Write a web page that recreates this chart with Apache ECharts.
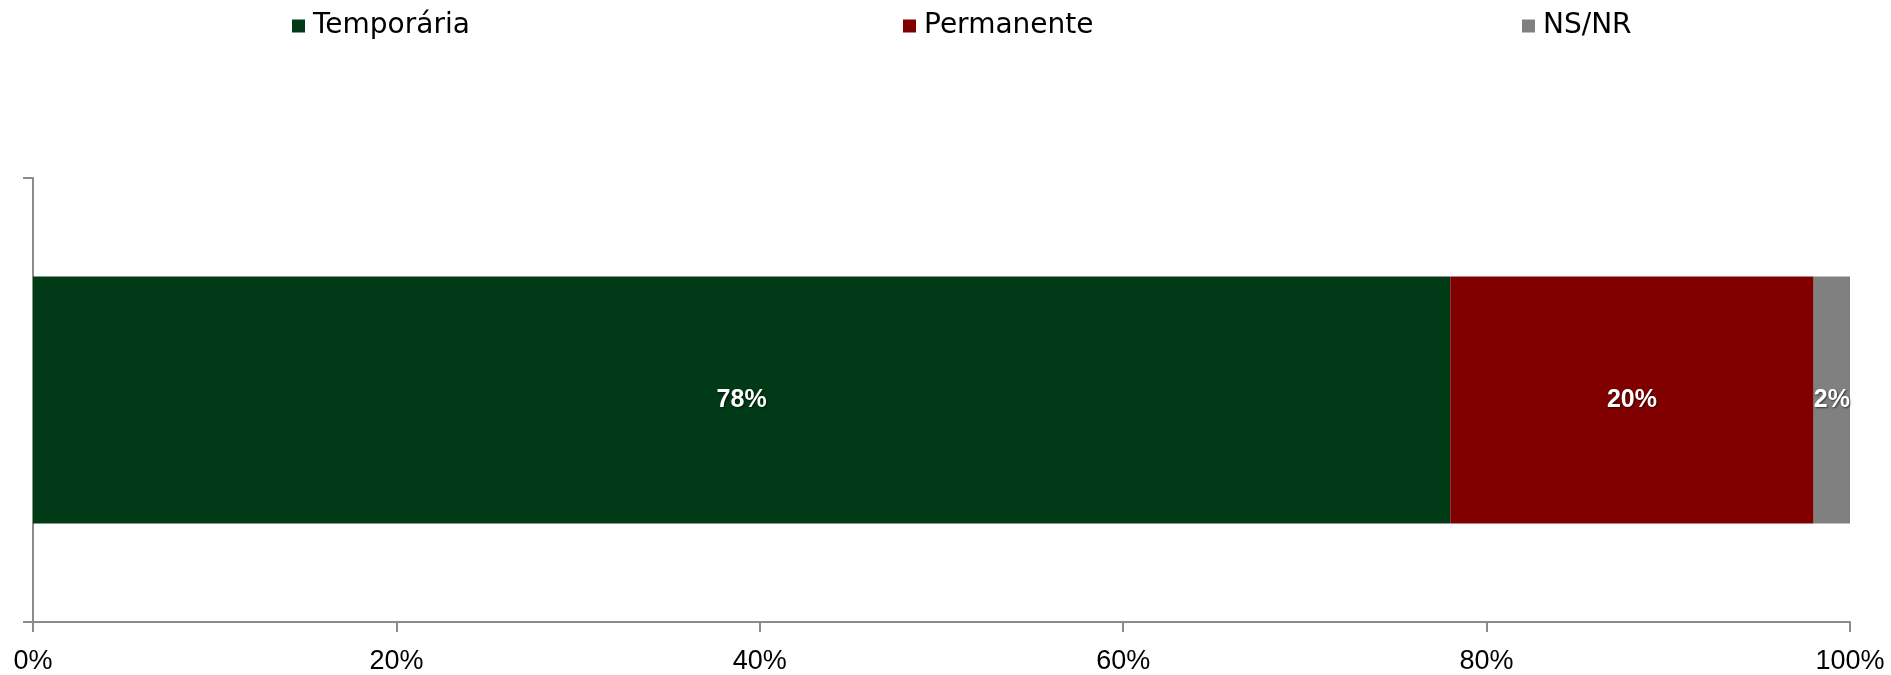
<!DOCTYPE html>
<html>
<head>
<meta charset="utf-8">
<script src="https://cdn.jsdelivr.net/npm/echarts@6/dist/echarts.min.js"></script>
<style>html,body{margin:0;padding:0;background:#fff}#c{width:1891px;height:675px}</style>
</head>
<body>
<div id="c"></div>
<script>
const categories = [''];
const seriesNames = ['Temporária', 'Permanente', 'NS/NR'];
const temporaria = [78];
const permanente = [20];
const nsnr = [2];
const xTicks = [0, 20, 40, 60, 80, 100];
const colors = ['#003A17', '#800000', '#808080'];

const chart = echarts.init(document.getElementById('c'));
const values = [temporaria, permanente, nsnr];
const legendLefts = [292, 903, 1522];

const axisColor = '#8c8c8c';
const option = {
  animation: false,
  backgroundColor: '#ffffff',
  legend: seriesNames.map((n, i) => ({
    data: [n],
    left: legendLefts[i],
    top: 12,
    padding: 0,
    icon: 'rect',
    itemWidth: 13,
    itemHeight: 13,
    itemGap: 0,
    textStyle: { fontFamily: 'DejaVu Sans', fontSize: 28, color: '#000', lineHeight: 28, padding: [0, 0, 0, 3] }
  })),
  grid: { left: 33, right: 41, top: 178, bottom: 53 },
  xAxis: {
    type: 'value',
    min: xTicks[0],
    max: xTicks[xTicks.length - 1],
    interval: 20,
    splitLine: { show: false },
    axisLine: { show: true, lineStyle: { color: axisColor, width: 2 } },
    axisTick: { show: true, length: 10, lineStyle: { color: axisColor, width: 2 } },
    axisLabel: {
      formatter: '{value}%',
      fontFamily: 'Liberation Sans',
      fontSize: 27,
      color: '#000',
      margin: 26
    }
  },
  yAxis: {
    type: 'category',
    data: categories,
    axisLine: { show: true, lineStyle: { color: axisColor, width: 2 } },
    axisTick: { show: true, length: 10, lineStyle: { color: axisColor, width: 2 } },
    axisLabel: { show: false }
  },
  series: seriesNames.map((n, i) => ({
    name: n,
    type: 'bar',
    stack: 'total',
    barWidth: 247,
    data: values[i],
    itemStyle: { color: colors[i] },
    label: {
      show: true,
      position: 'inside',
      formatter: '{c}%',
      color: '#fff',
      fontFamily: 'Liberation Sans',
      fontWeight: 'bold',
      fontSize: 25,
      textShadowColor: 'rgba(0,0,0,0.6)',
      textShadowBlur: 2,
      textShadowOffsetX: 1,
      textShadowOffsetY: 1
    }
  }))
};
chart.setOption(option);
</script>
</body>
</html>
